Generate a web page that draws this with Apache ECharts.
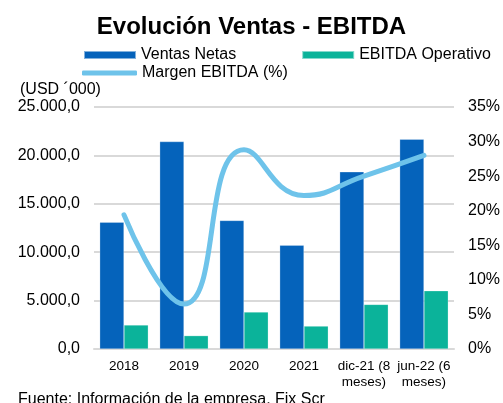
<!DOCTYPE html>
<html>
<head>
<meta charset="utf-8">
<script src="https://cdn.jsdelivr.net/npm/echarts@6/dist/echarts.min.js"></script>
<style>
html,body{margin:0;padding:0;background:#fff;}
#chart{width:503px;height:403px;}
</style>
</head>
<body>
<div id="chart"></div>
<script>
const categories = ['2018', '2019', '2020', '2021', 'dic-21 (8\nmeses)', 'jun-22 (6\nmeses)'];
const ventasNetas = [13100, 21430, 13280, 10730, 18300, 21670];
const ebitdaOperativo = [2480, 1380, 3820, 2370, 4610, 6020];
const margenEbitda = [19.4, 6.5, 28.8, 22.2, 25.0, 28.0];
const leftTicks = { min: 0, max: 25000, interval: 5000 };
const rightTicks = { min: 0, max: 35, interval: 5 };

const FONT = '"Liberation Sans", Arial, sans-serif';

function fmtEs(v) {
  const s = Math.round(v).toString().replace(/\B(?=(\d{3})+(?!\d))/g, '.');
  return s + ',0';
}

const chart = echarts.init(document.getElementById('chart'), null, { renderer: 'canvas' });
chart.setOption({
  animation: false,
  textStyle: { fontFamily: FONT },
  title: {
    text: 'Evolución Ventas - EBITDA',
    left: 'center',
    top: 10,
    textStyle: { fontFamily: FONT, fontSize: 24, fontWeight: 'bold', color: '#000' }
  },
  legend: [
    {
      data: ['Ventas Netas', 'EBITDA Operativo'],
      left: 83,
      top: 47,
      padding: 0,
      itemWidth: 52,
      itemHeight: 8,
      itemGap: 65,
      icon: 'rect',
      textStyle: { fontFamily: FONT, fontSize: 16, color: '#000' }
    },
    {
      data: [{ name: 'Margen EBITDA (%)', icon: 'roundRect' }],
      left: 82,
      top: 65,
      padding: 0,
      itemWidth: 55,
      itemHeight: 5,
      textStyle: { fontFamily: FONT, fontSize: 16, color: '#000' }
    }
  ],
  grid: { left: 94, right: 47, top: 107, bottom: 54, containLabel: false },
  xAxis: {
    type: 'category',
    data: categories,
    axisTick: { show: false },
    axisLine: { lineStyle: { color: '#d9d9d9', width: 2 } },
    axisLabel: { color: '#000', fontFamily: FONT, fontSize: 13.5, margin: 9, lineHeight: 16, interval: 0 }
  },
  yAxis: [
    {
      type: 'value',
      min: leftTicks.min,
      max: leftTicks.max,
      interval: leftTicks.interval,
      axisLine: { show: false },
      axisTick: { show: false },
      splitLine: { lineStyle: { color: '#d9d9d9', width: 2 } },
      axisLabel: { color: '#000', fontFamily: FONT, fontSize: 16, margin: 14, formatter: fmtEs }
    },
    {
      type: 'value',
      min: rightTicks.min,
      max: rightTicks.max,
      interval: rightTicks.interval,
      axisLine: { show: false },
      axisTick: { show: false },
      splitLine: { show: false },
      axisLabel: { color: '#000', fontFamily: FONT, fontSize: 16, margin: 14, formatter: '{value}%' }
    }
  ],
  series: [
    {
      name: 'Ventas Netas',
      type: 'bar',
      data: ventasNetas,
      barGap: '0%',
      barCategoryGap: '19%',
      itemStyle: { color: '#0563bb', borderColor: 'rgba(255,255,255,0.5)', borderWidth: 0.5 }
    },
    {
      name: 'EBITDA Operativo',
      type: 'bar',
      data: ebitdaOperativo,
      itemStyle: { color: '#0bb39a', borderColor: 'rgba(255,255,255,0.5)', borderWidth: 0.5 }
    },
    {
      name: 'Margen EBITDA (%)',
      type: 'line',
      yAxisIndex: 1,
      data: margenEbitda,
      smooth: 0.5,
      symbol: 'none',
      lineStyle: { color: '#6ec3ea', width: 5, cap: 'round' },
      itemStyle: { color: '#6ec3ea' }
    }
  ],
  graphic: [
    {
      type: 'text',
      left: 20,
      top: 82,
      style: { text: '(USD ´000)', font: '16px ' + FONT, fill: '#000' }
    },
    {
      type: 'text',
      left: 18,
      top: 392,
      style: { text: 'Fuente: Información de la empresa, Fix Scr', font: '16px ' + FONT, fill: '#000' }
    }
  ]
});
</script>
</body>
</html>
